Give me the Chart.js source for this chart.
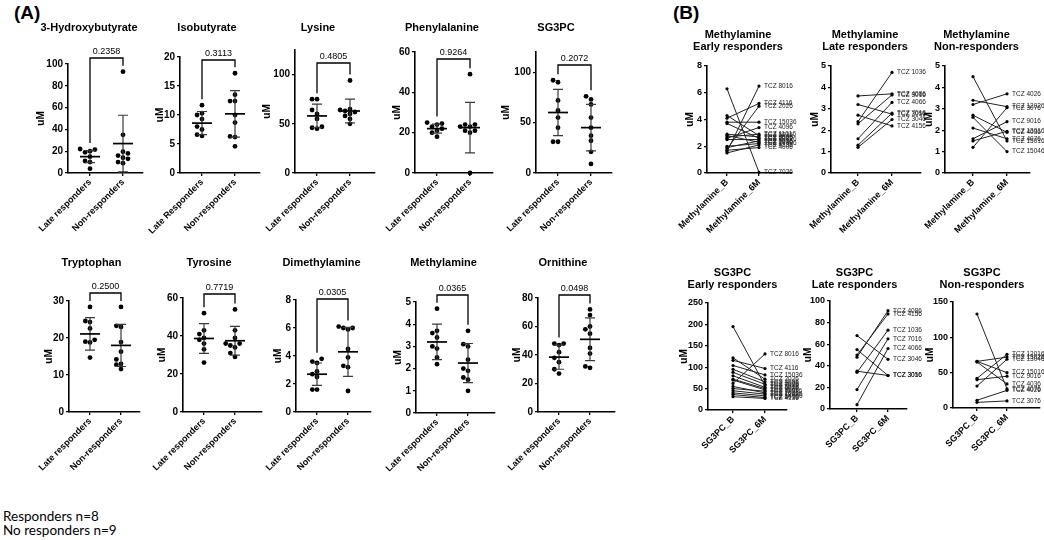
<!DOCTYPE html>
<html>
<head>
<meta charset="utf-8">
<script src="https://cdn.jsdelivr.net/npm/chart.js@4.4.1/dist/chart.umd.min.js"></script>
<style>
body { margin: 0; background: #fff; width: 1044px; height: 540px; position: relative; overflow: hidden; }
canvas { position: absolute; }
.tag { position: absolute; font: bold 19px 'Liberation Sans', Arial, sans-serif; line-height: 1; }
.note { position: absolute; left: 3px; font: 13.5px Lato, sans-serif; line-height: 1; }
</style>
</head>
<body>
<div class="tag" style="left:14px;top:3px">(A)</div>
<div class="tag" style="left:673px;top:3px">(B)</div>
<div class="note" style="top:510px">Responders n=8</div>
<div class="note" style="top:524px">No responders n=9</div>
<script>
// ---- panel (A): late vs non responders ----
const namesA = ['3-Hydroxybutyrate', 'Isobutyrate', 'Lysine', 'Phenylalanine', 'SG3PC',
  'Tryptophan', 'Tyrosine', 'Dimethylamine', 'Methylamine', 'Ornithine'];
const groupsA = [
  ['Late responders', 'Non-responders'], ['Late Responders', 'Non-responders'],
  ['Late responders', 'Non-responders'], ['Late responders', 'Non-responders'],
  ['Late responders', 'Non-responders'], ['Late responders', 'Non-responders'],
  ['Late responders', 'Non-responders'], ['Late responders', 'Non-responders'],
  ['Late responders', 'Non-responders'], ['Late responders', 'Non-responders']
];
const pValues = ['0.2358', '0.3113', '0.4805', '0.9264', '0.2072', '0.2500', '0.7719', '0.0305', '0.0365', '0.0498'];
const lateVals = [
  [22, 21.5, 20, 19, 15, 11, 10, 4],
  [11.7, 10.3, 10.0, 9.3, 8.0, 7.5, 6.6, 6.4],
  [75, 75, 64, 60, 55, 47, 45, 46],
  [25, 24.5, 24, 23, 22, 21, 20, 18],
  [92, 90, 72, 62, 55, 45, 31, 31],
  [28.4, 24.6, 24.3, 22.6, 19.5, 19.0, 18.8, 14.7],
  [52, 43, 41, 39, 38, 36, 33, 26],
  [3.8, 3.6, 3.5, 2.9, 2.7, 2.5, 1.6, 1.6],
  [4.7, 3.7, 3.6, 3.4, 3.0, 2.9, 2.5, 2.2],
  [48, 48, 47, 42, 38, 35, 30, 27]
];
const nonVals = [
  [93, 35, 19.5, 18, 16, 14, 13, 10, 9],
  [17.2, 13.5, 12.4, 12.4, 10.0, 8.7, 6.3, 6.2, 4.6],
  [94, 65, 64, 63, 62, 60, 58, 55, 50],
  [49, 24, 24, 23, 23, 21, 21, 20, 0],
  [76, 73, 68, 55, 45, 37, 32, 21, 9],
  [28.4, 23.3, 23.0, 18.9, 16.3, 14.2, 13.0, 12.8, 11.6],
  [54, 43, 39, 36, 36, 35, 34, 31, 29],
  [6.1, 6.0, 6.0, 5.9, 4.5, 3.9, 3.3, 3.2, 1.5],
  [3.7, 3.1, 3.0, 2.4, 2.0, 1.9, 1.6, 1.5, 1.0],
  [72, 68, 60, 58, 55, 45, 41, 32, 31]
];
const lateMean = [15, 8.6, 58, 22, 60, 21.1, 38.7, 2.7, 3.2, 38.5];
const lateSD = [5.5, 2.0, 12, 2.2, 23, 4.4, 7.8, 0.8, 0.8, 8.5];
const nonMean = [27, 10.2, 63, 22.5, 45, 18.0, 37.5, 4.3, 2.25, 51];
const nonSD = [26, 4.0, 12, 12.5, 23, 5.7, 7.6, 1.75, 0.88, 15];
const yMaxA = [100, 20, 125, 60, 120, 30, 60, 8, 5, 80];
const yStepA = [20, 5, 50, 20, 50, 10, 20, 2, 1, 20];

// ---- panel (B): paired baseline vs 6 months ----
const pairedTitles = [
  ['Methylamine', 'Early responders'], ['Methylamine', 'Late responders'], ['Methylamine', 'Non-responders'],
  ['SG3PC', 'Early responders'], ['SG3PC', 'Late responders'], ['SG3PC', 'Non-responders']
];
const pairedGroups = [
  ['Methylamine_B', 'Methylamine_6M'], ['Methylamine_B', 'Methylamine_6M'], ['Methylamine_B', 'Methylamine_6M'],
  ['SG3PC_B', 'SG3PC_6M'], ['SG3PC_B', 'SG3PC_6M'], ['SG3PC_B', 'SG3PC_6M']
];
const earlyIds = ['TCZ 8016', 'TCZ 4116', 'TCZ 2026', 'TCZ 15036', 'TCZ 4096', 'TCZ 7026', 'TCZ 4006', 'TCZ 4136',
  'TCZ 5016', 'TCZ 6026', 'TCZ 9006', 'TCZ 2036', 'TCZ 11016', 'TCZ 10026', 'TCZ 14006', 'TCZ 6016'];
const lateIds = ['TCZ 1036', 'TCZ 4086', 'TCZ 3016', 'TCZ 4066', 'TCZ 7016', 'TCZ 3056', 'TCZ 3046', 'TCZ 4156'];
const nonIdsM = ['TCZ 4026', 'TCZ 12026', 'TCZ 3076', 'TCZ 9016', 'TCZ 13016', 'TCZ 4036', 'TCZ 4076', 'TCZ 15016', 'TCZ 15046'];
const nonIdsS = ['TCZ 12016', 'TCZ 13026', 'TCZ 13046', 'TCZ 15016', 'TCZ 9016', 'TCZ 4036', 'TCZ 4076', 'TCZ 4026', 'TCZ 3076'];
const pairedIds = [earlyIds, lateIds, nonIdsM, earlyIds, lateIds, nonIdsS];
const baseB = [
  [1.6, 4.1, 1.8, 3.8, 2.6, 6.3, 1.7, 1.5, 4.3, 3.7, 2.9, 2.8, 2.7, 2.5, 2.0, 1.9],
  [2.4, 3.6, 2.3, 1.6, 1.3, 3.2, 1.2, 2.7],
  [3.2, 3.4, 1.2, 1.6, 1.5, 2.7, 2.1, 4.5, 2.6],
  [62, 116, 122, 104, 95, 195, 88, 31, 80, 72, 70, 55, 50, 45, 40, 36],
  [34, 48, 35, 4, 18, 55, 68, 50],
  [42, 66, 31, 66, 40, 65, 133, 11, 8]
];
const sixB = [
  [6.5, 5.2, 5.0, 3.8, 3.4, 0.05, 1.9, 2.1, 2.8, 2.6, 2.7, 2.3, 2.9, 2.5, 2.2, 2.4],
  [4.7, 3.7, 3.65, 3.3, 2.8, 2.75, 2.5, 2.2],
  [3.7, 3.1, 3.05, 2.4, 1.95, 1.9, 1.6, 1.5, 1.0],
  [131, 97, 72, 82, 66, 57, 60, 27, 53, 50, 47, 40, 44, 37, 33, 29],
  [73, 91, 31, 56, 65, 31, 46, 88],
  [76, 72, 69, 50, 45, 34, 27, 25, 10]
];
const yMaxB = [8, 5, 5, 250, 100, 150];
const yStepB = [2, 1, 1, 50, 20, 50];

// ---- layout (pixels on the page) ----
const rowsA = [
  { boxTop: 0, titleY: 28, xH: 77, unit: 33, gap: 22 },
  { boxTop: 235, titleY: 263, xH: 70, unit: 31, gap: 21 }
];
const layoutA = [
  { ax: 68, top: 64, bottom: 173, len: 75, yt: 27, br: 58, row: 0 },
  { ax: 180, top: 57, bottom: 173, len: 80, yt: 20, br: 60, row: 0 },
  { ax: 295, top: 50, bottom: 173, len: 80, yt: 28, br: 63, row: 0 },
  { ax: 415, top: 52, bottom: 173, len: 78, yt: 18, br: 59, row: 0 },
  { ax: 536, top: 52, bottom: 173, len: 76, yt: 30, br: 65, row: 0 },
  { ax: 69, top: 301, bottom: 412, len: 71, yt: 20, br: 293, row: 1 },
  { ax: 183, top: 298, bottom: 412, len: 79, yt: 21, br: 294, row: 1 },
  { ax: 296, top: 300, bottom: 412, len: 75, yt: 18, br: 299, row: 1 },
  { ax: 416, top: 302, bottom: 413, len: 79, yt: 18, br: 295, row: 1 },
  { ax: 538, top: 298, bottom: 412, len: 77, yt: 21, br: 295, row: 1 }
];
const rowsB = [
  { boxTop: 0, titleY: 35, xH: 75 },
  { boxTop: 235, titleY: 273, xH: 70 }
];
const layoutB = [
  { ax: 707, top: 66, bottom: 173, c0: 20, unit: 32, len: 85, yt: 17, row: 0 },
  { ax: 831, top: 66, bottom: 173, c0: 27, unit: 34, len: 90, yt: 16, row: 0 },
  { ax: 945, top: 66, bottom: 173, c0: 28, unit: 34, len: 85, yt: 16, row: 0 },
  { ax: 708, top: 303, bottom: 410, c0: 25, unit: 32, len: 79, yt: 24, row: 1 },
  { ax: 830, top: 301, bottom: 409, c0: 27, unit: 31, len: 77, yt: 22, row: 1 },
  { ax: 953, top: 302, bottom: 408, c0: 24, unit: 30, len: 87, yt: 23, row: 1 }
];
const EXTRA_L = 40; // room for the slanted category labels

const FONT = "'Liberation Sans', Arial, sans-serif";

function addCanvas(left, top, w, h) {
  const c = document.createElement('canvas');
  c.width = w;
  c.height = h;
  c.style.left = left + 'px';
  c.style.top = top + 'px';
  document.body.appendChild(c);
  return c;
}

// simple beeswarm offsets so dots with close values sit side by side
function spread(vals, pxPerUnit, unit) {
  const order = vals.map((v, i) => i).sort((a, b) => vals[a] - vals[b]);
  const cand = [0, -0.15, 0.15, -0.3, 0.3, -0.45, 0.45];
  const placed = [];
  const offs = [];
  order.forEach(i => {
    const py = vals[i] * pxPerUnit;
    let o = cand.find(c => placed.every(p => Math.abs(p.py - py) > 4.8 || Math.abs(p.o - c) * unit > 4.6));
    if (o === undefined) o = 0;
    placed.push({ py, o });
    offs[i] = o;
  });
  return offs;
}

function axes(xMin, xMax, labels, yMax, yStep, yW, xH, tickFont) {
  return {
    x: {
      type: 'linear', min: xMin, max: xMax,
      afterBuildTicks: s => { s.ticks = [{ value: 0 }, { value: 1 }]; },
      afterFit: s => { s.height = xH; s.paddingLeft = 0; s.paddingRight = 0; },
      ticks: {
        callback: v => labels[v], minRotation: 45, maxRotation: 45, autoSkip: false,
        color: '#000', padding: 1, font: { family: FONT, size: 9, weight: 'bold' }
      },
      grid: { drawOnChartArea: false, tickLength: 3, color: '#000', lineWidth: 1.3 },
      border: { color: '#000', width: 1.6 }
    },
    y: {
      min: 0, max: yMax,
      afterFit: s => { s.width = yW; s.paddingTop = 0; s.paddingBottom = 0; },
      ticks: { stepSize: yStep, includeBounds: false, color: '#000', padding: 2, font: { family: FONT, size: tickFont, weight: 'bold' } },
      grid: { drawOnChartArea: false, tickLength: 3, color: '#000', lineWidth: 1.3 },
      border: { color: '#000', width: 1.6 },
      title: { display: true, text: 'uM', color: '#000', padding: 0, font: { family: FONT, size: 10, weight: 'bold', lineHeight: 1.2 } }
    }
  };
}

function scatterPanel(i) {
  const L = layoutA[i];
  const R = rowsA[L.row];
  const yW = L.yt + 6;
  const w = EXTRA_L + yW + L.len + 8;
  const h = L.bottom - R.boxTop + R.xH;
  const pxPerUnit = (L.bottom - L.top) / yMaxA[i];
  const xMin = -R.gap / R.unit;
  const xMax = xMin + L.len / R.unit;
  const lateOff = spread(lateVals[i], pxPerUnit, R.unit);
  const nonOff = spread(nonVals[i], pxPerUnit, R.unit);
  const pts = lateVals[i].map((v, k) => ({ x: lateOff[k], y: v }))
    .concat(nonVals[i].map((v, k) => ({ x: 1 + nonOff[k], y: v })));
  const padTop = R.titleY - R.boxTop - 6.6;
  const padBottom = L.top - R.boxTop - padTop - 13.2;

  const stats = {
    id: 'stats' + i,
    afterDatasetsDraw(chart) {
      const { ctx, scales: { x, y } } = chart;
      const sets = [[lateMean[i], lateSD[i], lateVals[i]], [nonMean[i], nonSD[i], nonVals[i]]];
      const legs = [];
      ctx.save();
      sets.forEach(([m, sd, vals], g) => {
        const cx = x.getPixelForValue(g);
        const yHi = y.getPixelForValue(m + sd);
        const yLo = y.getPixelForValue(Math.max(m - sd, 0));
        const yM = y.getPixelForValue(m);
        ctx.strokeStyle = '#3a3a3a';
        ctx.lineWidth = 1.2;
        ctx.beginPath();
        ctx.moveTo(cx, yHi); ctx.lineTo(cx, yLo);
        ctx.moveTo(cx - 5, yHi); ctx.lineTo(cx + 5, yHi);
        ctx.moveTo(cx - 5, yLo); ctx.lineTo(cx + 5, yLo);
        ctx.stroke();
        ctx.strokeStyle = '#000';
        ctx.lineWidth = 1.7;
        ctx.beginPath();
        ctx.moveTo(cx - 10, yM); ctx.lineTo(cx + 10, yM);
        ctx.stroke();
        legs.push(Math.min(yHi, y.getPixelForValue(Math.max(...vals))) - 6);
      });
      const x0 = x.getPixelForValue(0), x1 = x.getPixelForValue(1);
      const by = L.br - R.boxTop;
      ctx.strokeStyle = '#000';
      ctx.lineWidth = 1.3;
      ctx.beginPath();
      ctx.moveTo(x0, legs[0]); ctx.lineTo(x0, by); ctx.lineTo(x1, by); ctx.lineTo(x1, legs[1]);
      ctx.stroke();
      ctx.fillStyle = '#000';
      ctx.font = '9px ' + FONT;
      ctx.textAlign = 'center';
      ctx.textBaseline = 'bottom';
      ctx.fillText(pValues[i], (x0 + x1) / 2, by - 2);
      ctx.restore();
    }
  };

  new Chart(addCanvas(L.ax - yW - EXTRA_L, R.boxTop, w, h), {
    type: 'scatter',
    data: { datasets: [{ data: pts, pointRadius: 2.4, pointBackgroundColor: '#000', pointBorderWidth: 0, clip: false }] },
    options: {
      responsive: false, animation: false,
      layout: { autoPadding: false, padding: { left: EXTRA_L, right: 8, top: 0, bottom: 0 } },
      plugins: {
        legend: { display: false }, tooltip: { enabled: false },
        title: {
          display: true, text: namesA[i], color: '#000',
          padding: { top: padTop, bottom: padBottom },
          font: { family: FONT, size: 11, weight: 'bold', lineHeight: 1.2 }
        }
      },
      scales: axes(xMin, xMax, groupsA[i], yMaxA[i], yStepA[i], yW, R.xH, 10)
    },
    plugins: [stats]
  });
}

function pairedPanel(j) {
  const L = layoutB[j];
  const R = rowsB[L.row];
  const yW = L.yt + 6;
  const padR = 40;
  const w = EXTRA_L + yW + L.len + padR;
  const h = L.bottom - R.boxTop + R.xH;
  const xMin = -L.c0 / L.unit;
  const xMax = xMin + L.len / L.unit;
  const padTop = R.titleY - R.boxTop - 6.05;
  const padBottom = L.top - R.boxTop - padTop - 24.2;

  const tags = {
    id: 'tags' + j,
    afterDatasetsDraw(chart) {
      const ctx = chart.ctx;
      ctx.save();
      ctx.fillStyle = '#222';
      ctx.font = '6.5px ' + FONT;
      ctx.textAlign = 'left';
      ctx.textBaseline = 'middle';
      chart.data.datasets.forEach((ds, k) => {
        const pt = chart.getDatasetMeta(k).data[1];
        ctx.fillText(ds.label, pt.x + 5, pt.y);
      });
      ctx.restore();
    }
  };

  const datasets = pairedIds[j].map((id, k) => ({
    label: id,
    data: [{ x: 0, y: baseB[j][k] }, { x: 1, y: sixB[j][k] }],
    showLine: true, borderColor: '#222', borderWidth: 1,
    pointRadius: 1.6, pointBackgroundColor: '#000', pointBorderWidth: 0, clip: false
  }));

  new Chart(addCanvas(L.ax - yW - EXTRA_L, R.boxTop, w, h), {
    type: 'scatter',
    data: { datasets },
    options: {
      responsive: false, animation: false,
      layout: { autoPadding: false, padding: { left: EXTRA_L, right: padR, top: 0, bottom: 0 } },
      plugins: {
        legend: { display: false }, tooltip: { enabled: false },
        title: {
          display: true, text: pairedTitles[j], color: '#000',
          padding: { top: padTop, bottom: padBottom },
          font: { family: FONT, size: 11, weight: 'bold', lineHeight: 1.1 }
        }
      },
      scales: axes(xMin, xMax, pairedGroups[j], yMaxB[j], yStepB[j], yW, R.xH, 9)
    },
    plugins: [tags]
  });
}

namesA.forEach((n, i) => scatterPanel(i));
pairedTitles.forEach((t, j) => pairedPanel(j));
</script>
</body>
</html>
